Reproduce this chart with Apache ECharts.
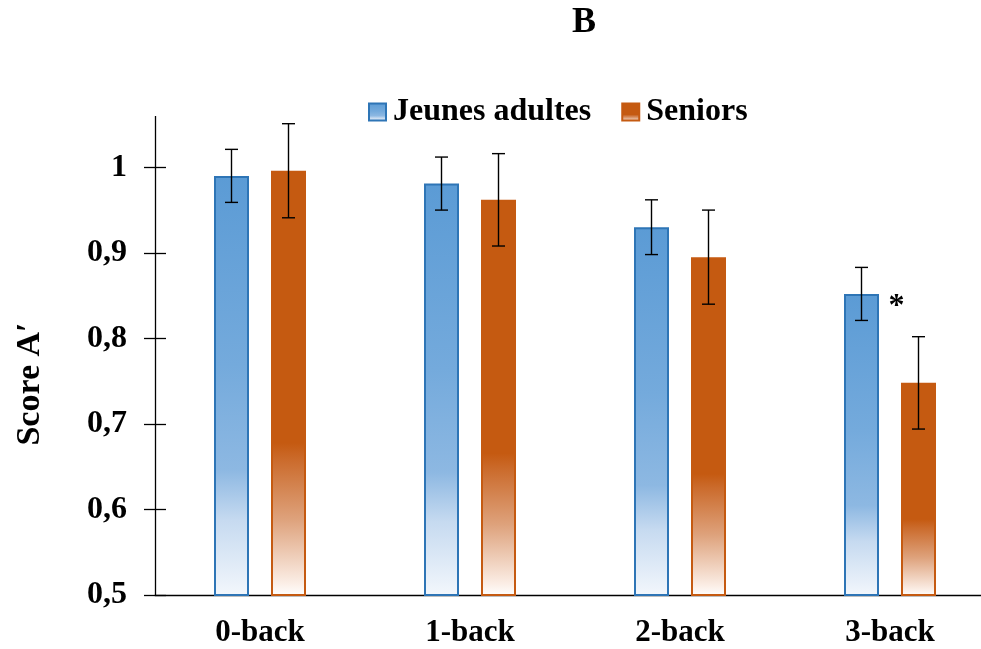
<!DOCTYPE html>
<html>
<head>
<meta charset="utf-8">
<script src="https://cdn.jsdelivr.net/npm/echarts@6/dist/echarts.min.js"></script>
<style>
html,body{margin:0;padding:0;background:#fff;overflow:hidden;width:981px;height:649px;}
#chart{width:1000px;height:649px;}
</style>
</head>
<body>
<div id="chart"></div>
<script>
// ---- data ----
const categories = ['0-back', '1-back', '2-back', '3-back'];
const seriesNames = ['Jeunes adultes', 'Seniors'];
const youngValues = [0.990, 0.981, 0.930, 0.852];
const youngErrors = [0.031, 0.031, 0.032, 0.031];
const seniorValues = [0.996, 0.962, 0.895, 0.748];
const seniorErrors = [0.055, 0.054, 0.055, 0.054];
const yTickValues = [0.5, 0.6, 0.7, 0.8, 0.9, 1.0];
const titleText = 'B';
const yAxisName = 'Score A\u2032';
const significanceMark = { category: '3-back', value: 0.8435, text: '*' };

// ---- style ----
const FONT = "'Liberation Serif', 'Times New Roman', serif";
const BAR_WIDTH = 35;
const BAR_GAP = 22 / 35;
const halfOffset = BAR_WIDTH * (1 + BAR_GAP) / 2;
const TICK_HALF = 11;
const GRID = { left: 155, top: 116, width: 840, height: 479, containLabel: false };

const blueFill = new echarts.graphic.LinearGradient(0, 0, 0, 1, [
  { offset: 0, color: '#5B9BD5' },
  { offset: 0.45, color: '#74AADC' },
  { offset: 0.7, color: '#8DB8E2' },
  { offset: 0.82, color: '#C6DAF0' },
  { offset: 1, color: '#F3F7FC' }
]);
const orangeFill = new echarts.graphic.LinearGradient(0, 0, 0, 1, [
  { offset: 0, color: '#C55A11' },
  { offset: 0.64, color: '#C55A11' },
  { offset: 0.68, color: '#CB6B2C' },
  { offset: 0.82, color: '#DEA27C' },
  { offset: 0.97, color: '#FBEEE6' },
  { offset: 1, color: '#FFFFFF' }
]);

function errorSeries(name, values, errors, side) {
  return {
    type: 'custom',
    name: name + ' err',
    z: 10,
    silent: true,
    data: values.map((v, i) => [i, v - errors[i], v + errors[i]]),
    encode: { x: 0, y: [1, 2] },
    renderItem: function (params, api) {
      const lo = api.coord([api.value(0), api.value(1)]);
      const hi = api.coord([api.value(0), api.value(2)]);
      const x = lo[0] + side * halfOffset;
      const cap = 6.5;
      const st = { stroke: '#000', lineWidth: 1.4 };
      return {
        type: 'group',
        children: [
          { type: 'line', shape: { x1: x, y1: lo[1], x2: x, y2: hi[1] }, style: st },
          { type: 'line', shape: { x1: x - cap, y1: lo[1], x2: x + cap, y2: lo[1] }, style: st },
          { type: 'line', shape: { x1: x - cap, y1: hi[1], x2: x + cap, y2: hi[1] }, style: st }
        ]
      };
    }
  };
}

const lineStyle = { color: '#000', width: 1.3 };

const chart = echarts.init(document.getElementById('chart'), null, { renderer: 'canvas' });
chart.setOption({
  backgroundColor: '#fff',
  animation: false,
  textStyle: { fontFamily: FONT },
  title: {
    text: titleText,
    left: 572, top: 5, padding: 0,
    textStyle: { fontFamily: FONT, fontWeight: 'bold', fontSize: 36, color: '#000' }
  },
  legend: {
    data: seriesNames,
    left: 368, top: 96, padding: 0,
    itemWidth: 17, itemHeight: 17, itemGap: 30,
    icon: 'rect',
    textStyle: { fontFamily: FONT, fontWeight: 'bold', fontSize: 32, color: '#000', padding: [0, 0, 0, 2] }
  },
  grid: GRID,
  xAxis: {
    type: 'category',
    data: categories,
    axisLine: { lineStyle: lineStyle },
    axisTick: { show: false },
    // the vertical value-axis line is drawn as the first category boundary
    splitLine: { show: true, interval: (i) => i === 0, lineStyle: lineStyle },
    axisLabel: { margin: 22, fontFamily: FONT, fontWeight: 'bold', fontSize: 31, color: '#000' }
  },
  yAxis: {
    type: 'value',
    min: 0.5, max: 1.06,
    offset: -TICK_HALF,
    splitLine: { show: false },
    axisLine: { show: false },
    axisTick: { show: true, length: 2 * TICK_HALF, customValues: yTickValues, lineStyle: lineStyle },
    axisLabel: {
      customValues: yTickValues,
      margin: 28 + TICK_HALF,
      fontFamily: FONT, fontWeight: 'bold', fontSize: 32, color: '#000',
      formatter: v => (Math.abs(v - 1) < 1e-9 ? '1' : v.toFixed(1).replace('.', ','))
    }
  },
  graphic: [{
    type: 'text',
    x: 30, y: 384,
    rotation: Math.PI / 2,
    style: {
      text: yAxisName,
      fontFamily: FONT, fontWeight: 'bold', fontSize: 34, fill: '#000',
      textAlign: 'center', textVerticalAlign: 'middle'
    }
  }],
  series: [{
    name: seriesNames[0],
    type: 'bar',
    data: youngValues,
    barWidth: BAR_WIDTH,
    barGap: (BAR_GAP * 100) + '%',
    itemStyle: { color: blueFill, borderColor: '#2E75B6', borderWidth: 2 },
    markPoint: {
      symbol: 'circle', symbolSize: 0,
      data: [{ coord: [significanceMark.category, significanceMark.value] }],
      label: {
        show: true, formatter: significanceMark.text, position: 'inside',
        offset: [35, 6],
        fontFamily: FONT, fontWeight: 'bold', fontSize: 32, color: '#000'
      }
    }
  }, {
    name: seriesNames[1],
    type: 'bar',
    data: seniorValues,
    barWidth: BAR_WIDTH,
    itemStyle: { color: orangeFill, borderColor: '#C55A11', borderWidth: 2 }
  },
  errorSeries(seriesNames[0], youngValues, youngErrors, -1),
  errorSeries(seriesNames[1], seniorValues, seniorErrors, 1)
  ]
});
</script>
</body>
</html>
